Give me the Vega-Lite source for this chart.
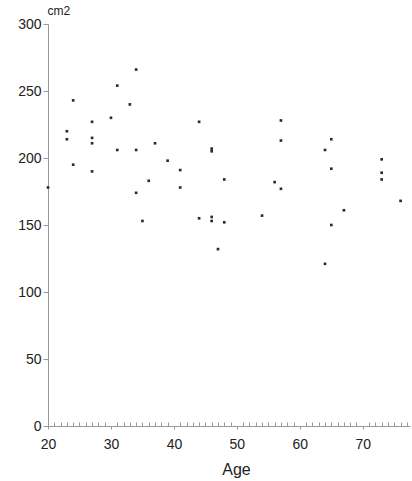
{
  "$schema": "https://vega.github.io/schema/vega-lite/v6.json",
  "width": 362,
  "height": 402,
  "autosize": {"type": "none"},
  "padding": {"left": 48, "top": 24, "right": 2, "bottom": 55},
  "background": "white",
  "data": {"values": [
    {"age": 20, "area": 178}, {"age": 23, "area": 220}, {"age": 23, "area": 214},
    {"age": 24, "area": 243}, {"age": 24, "area": 195}, {"age": 27, "area": 227},
    {"age": 27, "area": 215}, {"age": 27, "area": 211}, {"age": 27, "area": 190},
    {"age": 30, "area": 230}, {"age": 31, "area": 254}, {"age": 31, "area": 206},
    {"age": 33, "area": 240}, {"age": 34, "area": 266}, {"age": 34, "area": 206},
    {"age": 34, "area": 174}, {"age": 35, "area": 153}, {"age": 36, "area": 183},
    {"age": 37, "area": 211}, {"age": 39, "area": 198}, {"age": 41, "area": 191},
    {"age": 41, "area": 178}, {"age": 44, "area": 227}, {"age": 44, "area": 155},
    {"age": 46, "area": 207}, {"age": 46, "area": 205}, {"age": 46, "area": 156},
    {"age": 46, "area": 153}, {"age": 47, "area": 132}, {"age": 48, "area": 184},
    {"age": 48, "area": 152}, {"age": 54, "area": 157}, {"age": 56, "area": 182},
    {"age": 57, "area": 228}, {"age": 57, "area": 213}, {"age": 57, "area": 177},
    {"age": 64, "area": 206}, {"age": 64, "area": 121}, {"age": 65, "area": 214},
    {"age": 65, "area": 192}, {"age": 65, "area": 150}, {"age": 67, "area": 161},
    {"age": 73, "area": 199}, {"age": 73, "area": 189}, {"age": 73, "area": 184},
    {"age": 76, "area": 168}
  ]},
  "mark": {"type": "point", "shape": "square", "filled": true, "size": 7, "color": "#2a2a2a", "opacity": 1, "clip": false},
  "encoding": {
    "x": {
      "field": "age", "type": "quantitative",
      "scale": {"domain": [20, 77.5], "nice": false, "zero": false},
      "axis": {
        "title": "Age",
        "values": [20,21,22,23,24,25,26,27,28,29,30,31,32,33,34,35,36,37,38,39,40,41,42,43,44,45,46,47,48,49,50,51,52,53,54,55,56,57,58,59,60,61,62,63,64,65,66,67,68,69,70,71,72,73,74,75,76,77],
        "labelExpr": "datum.value % 10 === 0 ? datum.label : ''",
        "labelOverlap": false,
        "labelFlush": false,
        "tickSize": {"condition": {"test": "datum.value % 10 === 0", "value": 3}, "value": -4},
        "tickColor": "#999999",
        "tickWidth": 1,
        "domainColor": "#999999",
        "labelFont": "Liberation Sans",
        "labelFontSize": 14,
        "labelColor": "#222222",
        "labelPadding": 8,
        "titleFont": "Liberation Sans",
        "titleFontSize": 16,
        "titleFontWeight": "normal",
        "titleColor": "#222222",
        "titlePadding": 10,
        "titleX": 188,
        "grid": false
      }
    },
    "y": {
      "field": "area", "type": "quantitative",
      "scale": {"domain": [0, 300], "nice": false},
      "axis": {
        "title": "cm2",
        "values": [0, 50, 100, 150, 200, 250, 300],
        "tickSize": 5,
        "tickColor": "#999999",
        "domainColor": "#999999",
        "labelFont": "Liberation Sans",
        "labelFontSize": 14,
        "labelColor": "#222222",
        "labelPadding": 2,
        "titleFont": "Liberation Sans",
        "titleFontSize": 12,
        "titleFontWeight": "normal",
        "titleColor": "#222222",
        "titleAngle": 0,
        "titleAlign": "left",
        "titleBaseline": "bottom",
        "titleX": -1,
        "titleY": -7,
        "grid": false
      }
    }
  },
  "config": {"view": {"stroke": null}}
}
